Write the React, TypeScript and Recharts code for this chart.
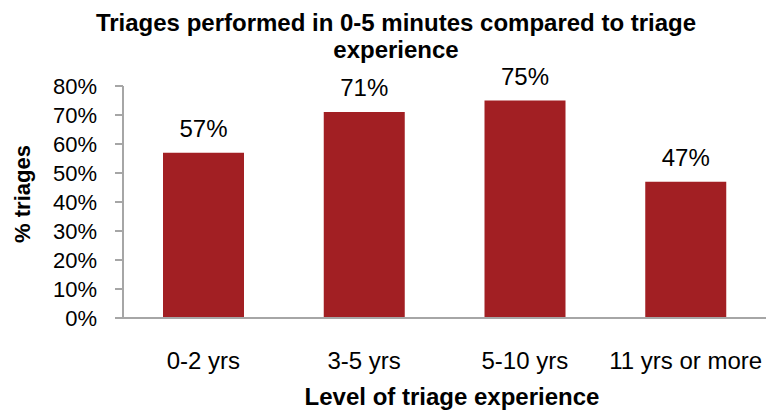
import React from 'react';
import { BarChart, Bar, XAxis, YAxis, LabelList } from 'recharts';

const categories = ['0-2 yrs', '3-5 yrs', '5-10 yrs', '11 yrs or more'];
const values = [57, 71, 75, 47];
const yTicks = [0, 10, 20, 30, 40, 50, 60, 70, 80];
const titleLines = ['Triages performed in 0-5 minutes compared to triage', 'experience'];
const xTitle = 'Level of triage experience';
const yTitle = '% triages';

const data = categories.map((c, i) => ({ name: c, value: values[i] }));

const FONT = '"Liberation Sans", Arial, sans-serif';
const AXIS = '#a6a6a6';

export default function App() {
  return (
    <div style={{ position: 'absolute', left: 0, top: 0, width: 766, height: 412, background: '#fff' }}>
      <BarChart
        width={766}
        height={412}
        data={data}
        margin={{ top: 86, right: 0, bottom: 0, left: 0 }}
        style={{ fontFamily: FONT }}
      >
        <XAxis
          dataKey="name"
          height={94}
          tickLine={false}
          axisLine={{ stroke: AXIS, strokeWidth: 2 }}
          tick={{ fontSize: 24, fill: '#000', fontFamily: FONT }}
          tickMargin={28}
          interval={0}
          label={{
            content: () => (
              <text x={452} y={405} textAnchor="middle" fontSize={24} fontWeight="bold" fill="#000" fontFamily={FONT}>
                {xTitle}
              </text>
            ),
          }}
        />
        <YAxis
          width={123}
          domain={[0, 80]}
          ticks={yTicks}
          tickFormatter={(v: number) => `${v}%`}
          tickSize={8}
          tickMargin={18}
          tickLine={{ stroke: AXIS, strokeWidth: 2 }}
          axisLine={{ stroke: AXIS, strokeWidth: 2 }}
          tick={{ fontSize: 22, fill: '#000', fontFamily: FONT }}
          interval={0}
          label={{
            content: () => (
              <text
                x={30}
                y={194}
                transform="rotate(-90, 30, 194)"
                textAnchor="middle"
                fontSize={22}
                fontWeight="bold"
                fill="#000"
                fontFamily={FONT}
              >
                {yTitle}
              </text>
            ),
          }}
        />
        <Bar dataKey="value" fill="#A21F23" barSize={81} isAnimationActive={false}>
          <LabelList
            dataKey="value"
            position="top"
            offset={16}
            formatter={(v: number) => `${v}%`}
            style={{ fontSize: 24, fill: '#000', fontFamily: FONT }}
          />
        </Bar>
        <g>
          {titleLines.map((t, i) => (
            <text
              key={i}
              x={396}
              y={31 + i * 27}
              textAnchor="middle"
              fontSize={24}
              fontWeight="bold"
              fill="#000"
              fontFamily={FONT}
            >
              {t}
            </text>
          ))}
        </g>
      </BarChart>
    </div>
  );
}
